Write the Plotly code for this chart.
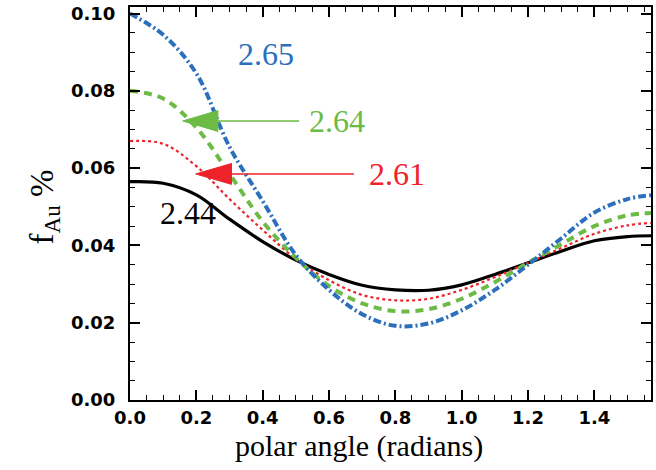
import numpy as np
import plotly.graph_objects as go

# polar angle samples (radians)
angle = [0.0, 0.1, 0.2, 0.3, 0.4, 0.5, 0.6, 0.7, 0.8, 0.9, 1.0, 1.1, 1.2, 1.3, 1.4, 1.5, 1.5708]

f_244 = [0.0565, 0.0561, 0.0531, 0.0468, 0.0410, 0.0362, 0.0325, 0.0297, 0.0285, 0.0284, 0.0298,
         0.0325, 0.0355, 0.0385, 0.0412, 0.0423, 0.0425]
f_261 = [0.0670, 0.0663, 0.0605, 0.0520, 0.0440, 0.0365, 0.0310, 0.0272, 0.0258, 0.0262, 0.0285,
         0.0318, 0.0355, 0.0393, 0.0430, 0.0452, 0.0458]
f_264 = [0.0800, 0.0780, 0.0705, 0.0585, 0.0462, 0.0368, 0.0295, 0.0250, 0.0230, 0.0235, 0.0262,
         0.0305, 0.0355, 0.0403, 0.0450, 0.0478, 0.0484]
f_265 = [0.1000, 0.0945, 0.0845, 0.0655, 0.0515, 0.0375, 0.0285, 0.0222, 0.0192, 0.0198, 0.0232,
         0.0285, 0.0350, 0.0418, 0.0485, 0.0520, 0.0530]

labels = ["2.44", "2.61", "2.64", "2.65"]
colors = ["#000000", "#ee2229", "#6cbb45", "#2b6fbd"]

x_ticks = [0.0, 0.2, 0.4, 0.6, 0.8, 1.0, 1.2, 1.4]
y_ticks = [0.00, 0.02, 0.04, 0.06, 0.08, 0.10]

fig = go.Figure()
fig.add_trace(go.Scatter(x=angle, y=f_244, mode="lines", line=dict(color=colors[0], width=3.2, shape="spline")))
fig.add_trace(go.Scatter(x=angle, y=f_261, mode="lines", line=dict(color=colors[1], width=2.2, dash="3px,3px", shape="spline")))
fig.add_trace(go.Scatter(x=angle, y=f_264, mode="lines", line=dict(color=colors[2], width=4, dash="8px,6px", shape="spline")))
fig.add_trace(go.Scatter(x=angle, y=f_265, mode="lines", line=dict(color=colors[3], width=4, dash="8px,3px,2px,3px", shape="spline")))

serif = "Liberation Serif, Times New Roman, serif"

# curve labels
fig.add_annotation(x=0.41, y=0.0895, text=labels[3], showarrow=False, font=dict(family=serif, size=32, color=colors[3]))
fig.add_annotation(x=0.625, y=0.0722, text=labels[2], showarrow=False, font=dict(family=serif, size=32, color=colors[2]))
fig.add_annotation(x=0.805, y=0.0585, text=labels[1], showarrow=False, font=dict(family=serif, size=32, color=colors[1]))
fig.add_annotation(x=0.174, y=0.0485, text=labels[0], showarrow=False, font=dict(family=serif, size=32, color=colors[0]))

# arrows (line + filled head)
def arrow(x_tail, x_tip, x_base, y, dy, color):
    fig.add_shape(type="line", x0=x_tail, x1=x_base, y0=y, y1=y, xref="x", yref="y",
                  line=dict(color=color, width=1.5))
    fig.add_shape(type="path", xref="x", yref="y",
                  path=f"M {x_tip},{y} L {x_base},{y + dy} L {x_base},{y - dy} Z",
                  fillcolor=color, line=dict(color=color, width=1))

arrow(0.51, 0.159, 0.265, 0.0722, 0.0027, colors[2])
arrow(0.675, 0.198, 0.306, 0.0585, 0.0027, colors[1])

axis_common = dict(
    showline=True, linecolor="black", linewidth=2, mirror="ticks",
    ticks="inside", ticklen=10, tickwidth=1.5, tickcolor="black",
    showgrid=False, zeroline=False,
    tickfont=dict(family="DejaVu Sans, Arial, sans-serif", size=18, color="black", weight="bold"),
)

fig.update_xaxes(range=[0, np.pi / 2], tickvals=x_ticks, tickformat=".1f", ticklabelstandoff=0,
                 minor=dict(dtick=0.05, tick0=0, ticks="inside", ticklen=5, tickwidth=1.2, tickcolor="black"),
                 **axis_common)
fig.update_yaxes(range=[0, 0.1017], tickvals=y_ticks, tickformat=".2f", ticklabelstandoff=9,
                 minor=dict(dtick=0.005, tick0=0, ticks="inside", ticklen=5, tickwidth=1.2, tickcolor="black"),
                 **axis_common)

# axis titles
fig.add_annotation(xref="paper", yref="paper", x=0.44, y=-0.117, yanchor="middle", text="polar angle (radians)",
                   showarrow=False, font=dict(family=serif, size=30, color="black"))
fig.add_annotation(xref="paper", yref="paper", x=-0.165, y=0.49, xanchor="center", yanchor="middle",
                   text="f<sub>Au</sub> %", textangle=-90, showarrow=False,
                   font=dict(family=serif, size=33, color="black"))

fig.update_layout(
    width=656, height=470,
    margin=dict(l=130, r=3, t=7, b=70),
    plot_bgcolor="white", paper_bgcolor="white",
    showlegend=False,
)

fig.write_html("out.html")
